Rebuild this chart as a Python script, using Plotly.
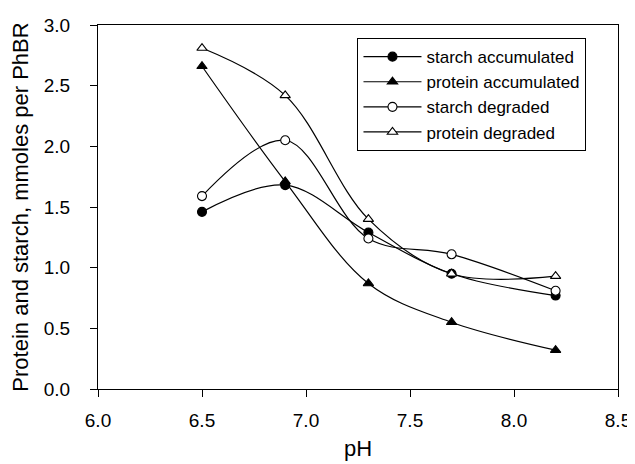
import plotly.graph_objects as go

ph = [6.5, 6.9, 7.3, 7.7, 8.2]
starch_acc = [1.46, 1.68, 1.29, 0.95, 0.77]
protein_acc = [2.66, 1.71, 0.87, 0.55, 0.32]
starch_deg = [1.59, 2.05, 1.24, 1.11, 0.81]
protein_deg = [2.81, 2.42, 1.40, 0.95, 0.93]

x_ticks = [6.0, 6.5, 7.0, 7.5, 8.0, 8.5]
y_ticks = [0.0, 0.5, 1.0, 1.5, 2.0, 2.5, 3.0]

series = [
    ("starch accumulated", starch_acc, "circle", "black"),
    ("protein accumulated", protein_acc, "triangle-up", "black"),
    ("starch degraded", starch_deg, "circle", "white"),
    ("protein degraded", protein_deg, "triangle-up", "white"),
]

FONT = "Liberation Sans, Arial, sans-serif"

fig = go.Figure()
for name, vals, sym, fill in series:
    fig.add_trace(go.Scatter(
        x=ph, y=vals, name=name, mode="lines+markers",
        line=dict(color="black", width=1.2, shape="spline", smoothing=1.0),
        marker=dict(symbol=sym, size=9, color=fill,
                    line=dict(color="black", width=1.1)),
    ))

axis_common = dict(
    showgrid=False, zeroline=False, showline=True, linecolor="black", linewidth=1,
    ticks="outside", ticklen=7, tickcolor="black", mirror=True,
    tickfont=dict(family=FONT, size=19, color="black"),
)
# The page body adds an 8px offset, so the figure is 8px smaller than the window
fig.update_layout(
    width=627, height=456,
    margin=dict(l=90, r=17, t=17, b=75, autoexpand=False),
    plot_bgcolor="white", paper_bgcolor="white",
    font=dict(family=FONT, color="black"),
    xaxis=dict(range=[6.0, 8.5], tickvals=x_ticks, ticktext=[f"{v:.1f}" for v in x_ticks],
               ticklabelstandoff=7,
               title=dict(text="pH", font=dict(size=22), standoff=10), **axis_common),
    yaxis=dict(range=[0, 3.0], tickvals=y_ticks, ticktext=[f"{v:.1f}" for v in y_ticks],
               ticklabelstandoff=16,
               title=dict(text="Protein and starch, mmoles per PhBR", font=dict(size=22), standoff=9),
               **axis_common),
    legend=dict(x=0.499, y=0.964, xanchor="left", yanchor="top",
                bordercolor="black", borderwidth=1, bgcolor="white",
                font=dict(size=17, color="black"), tracegroupgap=0,
                itemwidth=58),
    showlegend=True,
)
fig.write_html("out.html")
